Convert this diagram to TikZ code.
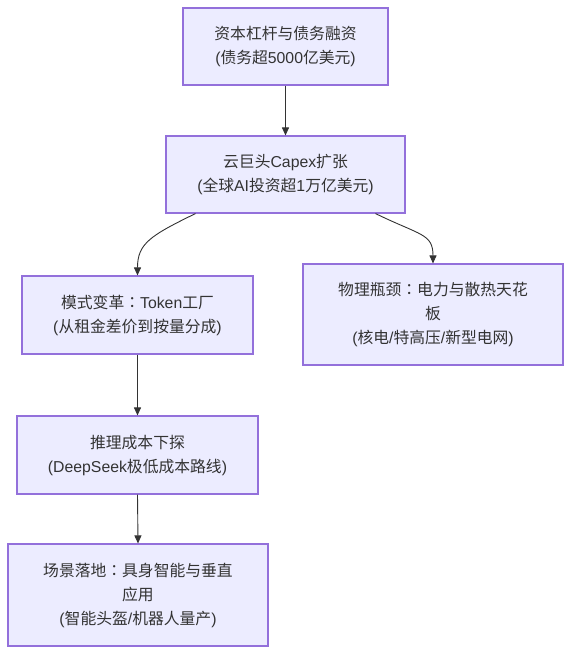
\documentclass[tikz,border=0pt]{standalone}
\usepackage{fontspec}
\setmainfont{Noto Sans CJK SC}
\newfontfamily\latfont{Liberation Sans}
\newfontfamily\tcfont{Noto Sans CJK TC}
\newcommand{\lt}[1]{{\latfont #1}}
\newcommand{\ccolon}{{\tcfont ：}}
\usetikzlibrary{arrows.meta}
\definecolor{boxfill}{HTML}{ECECFF}
\definecolor{boxdraw}{HTML}{9370DB}
\definecolor{ink}{HTML}{333333}
\tikzset{
  box/.style={draw=boxdraw, fill=boxfill, line width=1.1pt, align=center, text=ink,
    inner sep=0pt, font=\fontsize{15.8}{24}\selectfont},
  arr/.style={draw=ink, line width=0.9pt, -{Triangle[length=8pt,width=7pt]}}
}
\begin{document}
\begin{tikzpicture}[x=1pt,y=-1pt]
\useasboundingbox (0,0) rectangle (571,654);
\node[box, minimum width=205pt, minimum height=77pt] (n1) at (285.5,46.5)
  {资本杠杆与债务融资\\\lt{(}债务超\lt{5000}亿美元\lt{)}};
\node[box, minimum width=239pt, minimum height=77pt] (n2) at (285.5,174.5)
  {云巨头\lt{Capex}扩张\\\lt{(}全球\lt{AI}投资超\lt{1}万亿美元\lt{)}};
\node[box, minimum width=231pt, minimum height=78pt] (n3) at (137.5,315)
  {模式变革\ccolon\lt{Token}工厂\\\lt{(}从租金差价到按量分成\lt{)}};
\node[box, minimum width=260pt, minimum height=101pt] (n4) at (433,314.5)
  {物理瓶颈\ccolon 电力与散热天花\\板\\\lt{(}核电\lt{/}特高压\lt{/}新型电网\lt{)}};
\node[box, minimum width=241pt, minimum height=78pt] (n5) at (137.5,455)
  {推理成本下探\\\lt{(DeepSeek}极低成本路线\lt{)}};
\node[box, minimum width=260pt, minimum height=102pt] (n6) at (138,595)
  {场景落地\ccolon 具身智能与垂直\\应用\\\lt{(}智能头盔\lt{/}机器人量产\lt{)}};
\draw[arr] (n1.south) -- (n2.north);
\draw[arr] ([xshift=-90pt]n2.south) .. controls +(-45,22) and +(0,-32) .. (n3.north);
\draw[arr] ([xshift=90pt]n2.south) .. controls +(45,22) and +(0,-30) .. (n4.north);
\draw[arr] (n3.south) -- (n5.north);
\draw[arr] (n5.south) -- (n6.north);
\end{tikzpicture}
\end{document}
